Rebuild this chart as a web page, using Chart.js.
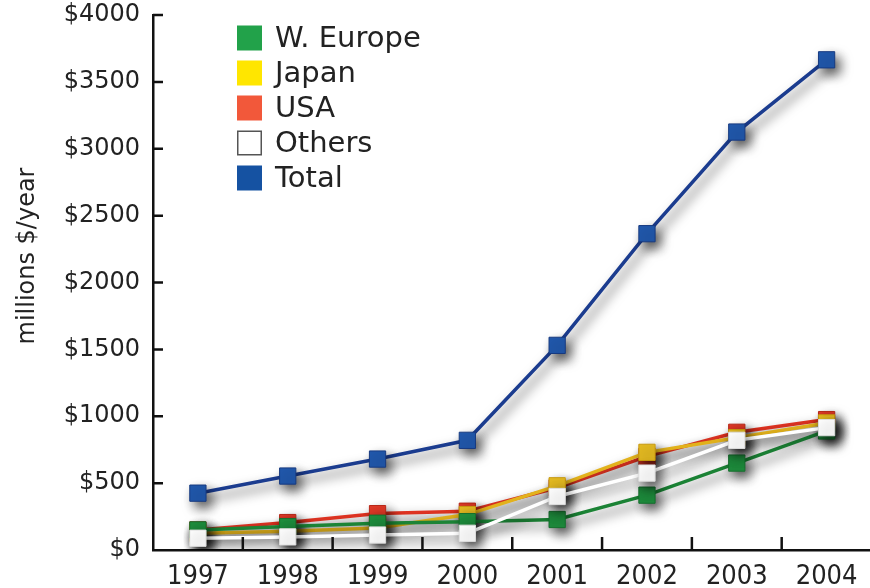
<!DOCTYPE html>
<html>
<head>
<meta charset="utf-8">
<script src="https://cdn.jsdelivr.net/npm/chart.js@4"></script>
<style>
  html, body { margin: 0; padding: 0; background: #fff; overflow: hidden; }
  #wrap { width: 884px; height: 588px; position: relative; }
</style>
</head>
<body>
<div id="wrap"><canvas id="mainChart"></canvas></div>
<script>
// Chart data (millions $/year)
const years = ['1997', '1998', '1999', '2000', '2001', '2002', '2003', '2004'];
const wEurope = [150, 175, 200, 212, 228, 410, 650, 890];
const japan   = [125, 140, 165, 265, 480, 730, 840, 950];
const usa     = [150, 205, 272, 290, 465, 700, 880, 975];
const others  = [88, 98, 112, 125, 400, 575, 820, 915];
const total   = [425, 553, 680, 820, 1530, 2365, 3125, 3665];
const yTicks  = [0, 500, 1000, 1500, 2000, 2500, 3000, 3500, 4000];

const legendNames = ['W. Europe', 'Japan', 'USA', 'Others', 'Total'];
const yTitle = 'millions $/year';

const FONT = '"DejaVu Sans", Verdana, sans-serif';

function series(label, data, line, fill, edge, order) {
    return {
        label: label,
        data: data,
        borderColor: line,
        borderWidth: 3.5,
        tension: 0,
        pointStyle: 'rect',
        pointRadius: 11.5,
        pointHoverRadius: 11.5,
        pointBackgroundColor: fill,
        pointBorderColor: edge,
        pointBorderWidth: 1,
        order: order
    };
}

// legend boxes, drawn inside the plot area
const legendColors = ['#22a24a', '#ffe600', '#f2583a', '#ffffff', '#1552a2'];
const legendPlugin = {
    id: 'boxLegend',
    afterDraw(chart) {
        const ctx = chart.ctx;
        ctx.save();
        ctx.font = '29px ' + FONT;
        ctx.textBaseline = 'middle';
        legendNames.forEach((name, i) => {
            const cy = 38 + i * 35;
            ctx.fillStyle = legendColors[i];
            ctx.fillRect(237, cy - 12.5, 25, 25);
            if (i === 3) {
                ctx.strokeStyle = '#555';
                ctx.lineWidth = 1.5;
                ctx.strokeRect(237.75, cy - 11.75, 23.5, 23.5);
            }
            ctx.fillStyle = '#222';
            ctx.fillText(name, 275, cy + 1);
        });
        // y axis title
        ctx.translate(28, 256);
        ctx.rotate(-Math.PI / 2);
        ctx.font = '24px ' + FONT;
        ctx.textAlign = 'center';
        ctx.fillText(yTitle, 0, 0);
        ctx.restore();
    }
};

// drop shadow under every line and marker
const shadowPlugin = {
    id: 'shadow',
    beforeDatasetDraw(chart) {
        const ctx = chart.ctx;
        ctx.save();
        ctx.shadowColor = 'rgba(0,0,0,0.65)';
        ctx.shadowBlur = 12;
        ctx.shadowOffsetX = 5;
        ctx.shadowOffsetY = 6;
    },
    afterDatasetDraw(chart) {
        chart.ctx.restore();
    }
};

// inward tick marks on both axes
const tickPlugin = {
    id: 'inTicks',
    afterDraw(chart) {
        const ctx = chart.ctx;
        const x = chart.scales.x, y = chart.scales.y;
        const area = chart.chartArea;
        ctx.save();
        ctx.strokeStyle = '#111';
        ctx.lineWidth = 2.5;
        ctx.beginPath();
        yTicks.forEach(v => {
            if (v === 0) return;
            const py = y.getPixelForValue(v);
            ctx.moveTo(area.left, py);
            ctx.lineTo(area.left + 10, py);
        });
        for (let i = 0; i < years.length - 1; i++) {
            const px = (x.getPixelForValue(i) + x.getPixelForValue(i + 1)) / 2;
            ctx.moveTo(px, area.bottom);
            ctx.lineTo(px, area.bottom - 13);
        }
        ctx.stroke();
        ctx.restore();
    }
};

const chart = new Chart(document.getElementById('mainChart'), {
    type: 'line',
    data: {
        labels: years,
        datasets: [
            series('Total', total, '#1b3c8f', '#2159ae', '#173a80', 1),
            series('Others', others, '#ffffff', '#ffffff', '#dddddd', 2),
            series('W. Europe', wEurope, '#1c8436', '#1f8f3e', '#16702e', 3),
            series('Japan', japan, '#e2b21c', '#e6bc22', '#c89a10', 4),
            series('USA', usa, '#de3322', '#e23a28', '#b82818', 5)
        ]
    },
    options: {
        responsive: true,
        maintainAspectRatio: false,
        animation: false,
        layout: { padding: { top: 15, right: 0, left: 0, bottom: 0 } },
        plugins: {
            legend: { display: false },
            tooltip: { enabled: false }
        },
        scales: {
            x: {
                offset: true,
                grid: { display: false, drawTicks: false },
                border: { display: true, color: '#111', width: 2.5 },
                ticks: {
                    color: '#222',
                    padding: 11,
                    font: { family: '"DejaVu Sans Condensed", ' + FONT, size: 27 }
                },
                afterFit: s => {
                    s.height = 38;
                    s.paddingLeft = 0;
                    s.paddingRight = 0;
                }
            },
            y: {
                min: 0,
                max: 4000,
                afterBuildTicks: s => { s.ticks = yTicks.map(v => ({ value: v })); },
                grid: { display: false, drawTicks: false },
                border: { display: true, color: '#111', width: 2.5 },
                ticks: {
                    color: '#222',
                    padding: 13,
                    font: { family: FONT, size: 24 },
                    callback: v => '$' + v
                },
                afterFit: s => {
                    s.width = 153;
                    s.paddingTop = 0;
                    s.paddingBottom = 0;
                }
            }
        }
    },
    plugins: [shadowPlugin, tickPlugin, legendPlugin]
});
</script>
</body>
</html>
